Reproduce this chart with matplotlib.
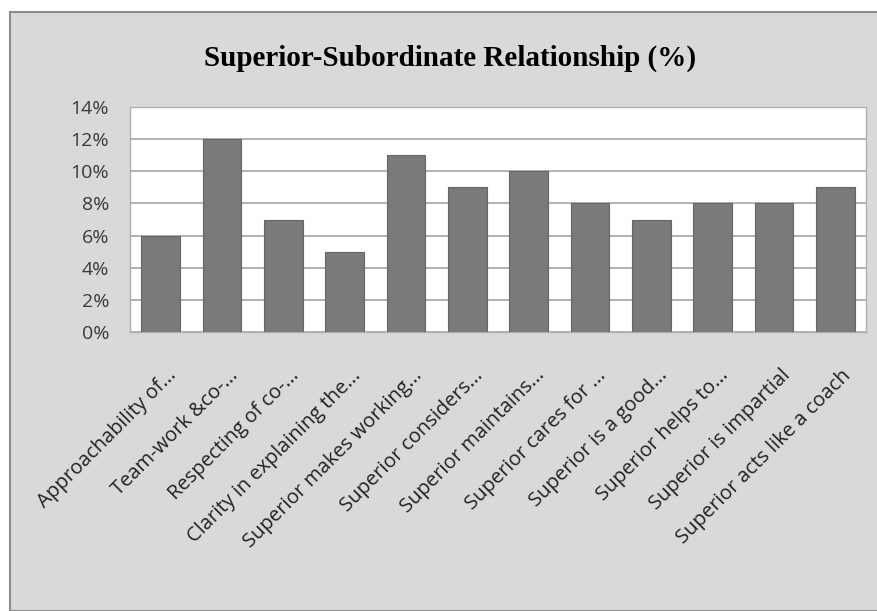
import matplotlib
matplotlib.use('Agg')
from matplotlib import pyplot as plt
from matplotlib.patches import Rectangle
from matplotlib.ticker import FuncFormatter
import matplotlib.transforms as mtransforms

labels = ['Approachability of...', 'Team-work &co-...', 'Respecting of co-...',
          'Clarity in explaining the...', 'Superior makes working...',
          'Superior considers...', 'Superior maintains...', 'Superior cares for ...',
          'Superior is a good...', 'Superior helps to...', 'Superior is impartial',
          'Superior acts like a coach']
values = [6, 12, 7, 5, 11, 9, 10, 8, 7, 8, 8, 9]
yticks = [0, 2, 4, 6, 8, 10, 12, 14]

fig = plt.figure(figsize=(8.78, 6.11), dpi=100)
fig.patch.set_facecolor('white')

# grey chart frame
frame = Rectangle((10 / 878, 0), 1, 1 - 12 / 611, transform=fig.transFigure,
                  facecolor='#d9d9d9', edgecolor='#8c8c8c', linewidth=1.5, zorder=-10)
fig.patches.append(frame)

ax = fig.add_axes([130 / 878, 1 - 332 / 611, (866 - 130) / 878, (332 - 107) / 611])
ax.set_facecolor('white')
x = range(len(values))
ax.bar(x, values, width=0.63, color='#7a7a7a', edgecolor='#666666', linewidth=0.8, zorder=3)

ax.set_ylim(0, 14)
ax.set_xlim(-0.5, len(values) - 0.5)
ax.set_yticks(yticks)
ax.yaxis.set_major_formatter(FuncFormatter(lambda v, p: f'{v:.0f}%'))
ax.grid(axis='y', color='#a6a6a6', linewidth=1.2, zorder=0)
for s in ax.spines.values():
    s.set_color('#b0b0b0')
    s.set_linewidth(1.0)
ax.tick_params(axis='y', length=0, pad=15)
for t in ax.get_yticklabels():
    t.set_fontfamily('Open Sans')
    t.set_fontsize(14)
    t.set_color('#3a3a3a')

ax.set_xticks(list(x))
ax.set_xticklabels(labels, rotation=45, ha='right', rotation_mode='anchor',
                   fontfamily='Open Sans', fontsize=14.5, color='#222222')
ax.tick_params(axis='x', length=0, pad=24)
# nudge the slanted labels a little to the right
shift = mtransforms.ScaledTranslation(0.06, 0, fig.dpi_scale_trans)
for t in ax.get_xticklabels():
    t.set_transform(t.get_transform() + shift)

fig.text(450 / 878, 1 - 58 / 611, 'Superior-Subordinate Relationship (%)',
         ha='center', va='center', fontfamily='Liberation Serif',
         fontweight='bold', fontsize=21)

fig.savefig('out.png', dpi=100, facecolor=fig.get_facecolor())
